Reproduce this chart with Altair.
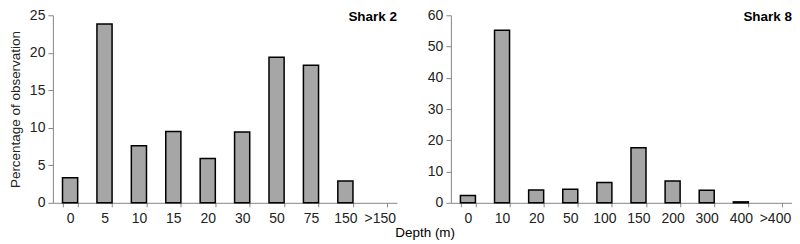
import altair as alt
import pandas as pd

cats2 = ["0", "5", "10", "15", "20", "30", "50", "75", "150", ">150"]
vals2 = [3.35, 23.85, 7.6, 9.5, 5.9, 9.45, 19.4, 18.35, 2.9, 0]
cats8 = ["0", "10", "20", "50", "100", "150", "200", "300", "400", ">400"]
vals8 = [2.3, 55.2, 4.1, 4.3, 6.5, 17.6, 7.0, 4.0, 0.3, 0]
yticks2 = [0, 5, 10, 15, 20, 25]
yticks8 = [0, 10, 20, 30, 40, 50, 60]


def panel(cats, vals, title, yticks, ytitle, w):
    df = pd.DataFrame({"depth": cats, "pct": vals})
    yaxis = alt.Axis(values=yticks, grid=False, domainColor="#868686", tickColor="#868686",
                     tickSize=5, labelPadding=3, labelColor="#222222", titlePadding=7,
                     labelFontSize=14, titleFontSize=13.5)
    return alt.Chart(df).transform_filter(alt.datum.pct > 0).mark_bar(
        fill="#a6a6a6", stroke="black", strokeWidth=1.5).encode(
        x=alt.X("depth:N", sort=cats, title=None,
                scale=alt.Scale(domain=cats, paddingInner=0.56, paddingOuter=0.28),
                axis=alt.Axis(labelAngle=0, tickBand="extent", grid=False, domainColor="#868686",
                              tickColor="#868686", tickSize=4, labelPadding=5, labelColor="#222222",
                              labelFontSize=14)),
        y=alt.Y("pct:Q", scale=alt.Scale(domain=[0, yticks[-1]], nice=False),
                title=ytitle, axis=yaxis),
    ).properties(width=w, height=188,
                 title=alt.TitleParams(title, anchor="end", offset=-15, fontWeight="bold",
                                       fontSize=13.5))


left = panel(cats2, vals2, "Shark 2", yticks2, "Percentage of observation", 345)
right = panel(cats8, vals8, "Shark 8", yticks8, None, 342)

chart = alt.hconcat(left, right, spacing=30).properties(
    title=alt.TitleParams("Depth (m)", orient="bottom", anchor="middle", fontWeight="normal",
                          fontSize=13.5, dx=25, offset=0),
    padding={"left": 0, "top": 0, "right": 0, "bottom": 0},
).configure(font="Liberation Sans").configure_view(stroke=None).configure_axis(
    titleFontWeight="normal", titleColor="#222222"
)

chart.save("out.html", embed_options={"renderer": "svg", "actions": False})
